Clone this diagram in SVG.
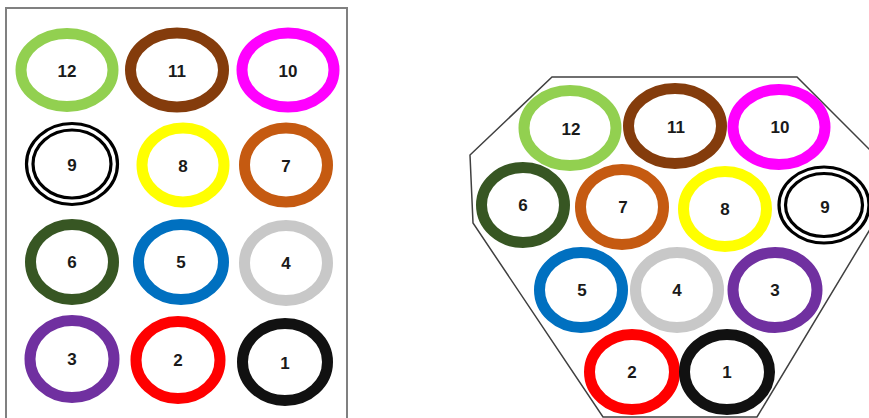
<svg xmlns="http://www.w3.org/2000/svg" width="869" height="418" viewBox="0 0 869 418">
<style>
.r{fill:none;stroke-width:11}
.d{fill:none;stroke:#000;stroke-width:3.2}
.t{font-family:"Liberation Sans",Arial,sans-serif;font-weight:bold;font-size:17px;fill:#1a1a1a;text-anchor:middle;dominant-baseline:central}
.c12{stroke:#92D050}.c11{stroke:#843C0C}.c10{stroke:#FF00FF}.c8{stroke:#FFFF00}.c7{stroke:#C55A11}
.c6{stroke:#375623}.c5{stroke:#0070C0}.c4{stroke:#C8C8C8}.c3{stroke:#7030A0}.c2{stroke:#FF0000}.c1{stroke:#111111}
</style>
<rect width="869" height="418" fill="#fff"/>
<g id="left-frame"><rect x="6" y="8" width="341" height="412" fill="none" stroke="#808080" stroke-width="2"/></g>
<g id="right-frame"><polygon points="552,77 797,77 872,152 872,226 757,417 603,417 473,223 470,155" fill="none" stroke="#404040" stroke-width="1.5"/></g>
<g id="left">
<g id="L12"><ellipse class="r c12" cx="67" cy="70" rx="46" ry="36.5"/><text class="t" x="67" y="71">12</text></g>
<g id="L11"><ellipse class="r c11" cx="177" cy="70" rx="46.5" ry="37"/><text class="t" x="177" y="71">11</text></g>
<g id="L10"><ellipse class="r c10" cx="288" cy="70" rx="46" ry="37"/><text class="t" x="288" y="71">10</text></g>
<g id="L9"><ellipse class="d" cx="72" cy="164" rx="45.5" ry="40.5"/><ellipse class="d" cx="72" cy="164" rx="39" ry="34"/><text class="t" x="72" y="165">9</text></g>
<g id="L8"><ellipse class="r c8" cx="183" cy="165" rx="41" ry="37"/><text class="t" x="183" y="166">8</text></g>
<g id="L7"><ellipse class="r c7" cx="286" cy="165" rx="41.5" ry="37"/><text class="t" x="286" y="166">7</text></g>
<g id="L6"><ellipse class="r c6" cx="72" cy="262" rx="41.5" ry="37.5"/><text class="t" x="72" y="262">6</text></g>
<g id="L5"><ellipse class="r c5" cx="181" cy="262" rx="42.5" ry="37.5"/><text class="t" x="181" y="262">5</text></g>
<g id="L4"><ellipse class="r c4" cx="286" cy="263" rx="41.5" ry="37.5"/><text class="t" x="286" y="263">4</text></g>
<g id="L3"><ellipse class="r c3" cx="72" cy="359" rx="42" ry="38.5"/><text class="t" x="72" y="359">3</text></g>
<g id="L2"><ellipse class="r c2" cx="178" cy="360" rx="42" ry="38.5"/><text class="t" x="178" y="360">2</text></g>
<g id="L1"><ellipse class="r c1" cx="285" cy="362" rx="42.5" ry="38.5"/><text class="t" x="285" y="363">1</text></g>
</g>
<g id="right">
<g id="R12"><ellipse class="r c12" cx="570" cy="128" rx="46" ry="37.5"/><text class="t" x="571" y="129">12</text></g>
<g id="R11"><ellipse class="r c11" cx="675" cy="126" rx="46.5" ry="37.5"/><text class="t" x="676" y="127">11</text></g>
<g id="R10"><ellipse class="r c10" cx="779" cy="127" rx="46" ry="37.5"/><text class="t" x="780" y="127">10</text></g>
<g id="R6"><ellipse class="r c6" cx="523" cy="205" rx="41.5" ry="37.5"/><text class="t" x="523" y="205">6</text></g>
<g id="R7"><ellipse class="r c7" cx="622" cy="207" rx="41.5" ry="37.5"/><text class="t" x="623" y="207">7</text></g>
<g id="R8"><ellipse class="r c8" cx="725" cy="209" rx="41.5" ry="37.5"/><text class="t" x="725" y="209">8</text></g>
<g id="R9"><ellipse class="d" cx="824" cy="205" rx="45" ry="38"/><ellipse class="d" cx="824" cy="205" rx="38.5" ry="31.5"/><text class="t" x="825" y="207">9</text></g>
<g id="R5"><ellipse class="r c5" cx="581" cy="290" rx="41.5" ry="37.5"/><text class="t" x="582" y="290">5</text></g>
<g id="R4"><ellipse class="r c4" cx="677" cy="290" rx="41.5" ry="37.5"/><text class="t" x="677" y="290">4</text></g>
<g id="R3"><ellipse class="r c3" cx="775" cy="290" rx="42" ry="37.5"/><text class="t" x="775" y="290">3</text></g>
<g id="R2"><ellipse class="r c2" cx="632" cy="372" rx="42.5" ry="37.5"/><text class="t" x="632" y="372">2</text></g>
<g id="R1"><ellipse class="r c1" cx="727" cy="372" rx="42.5" ry="37.5"/><text class="t" x="727" y="372">1</text></g>
</g>
<g id="connectors"/>
</svg>
